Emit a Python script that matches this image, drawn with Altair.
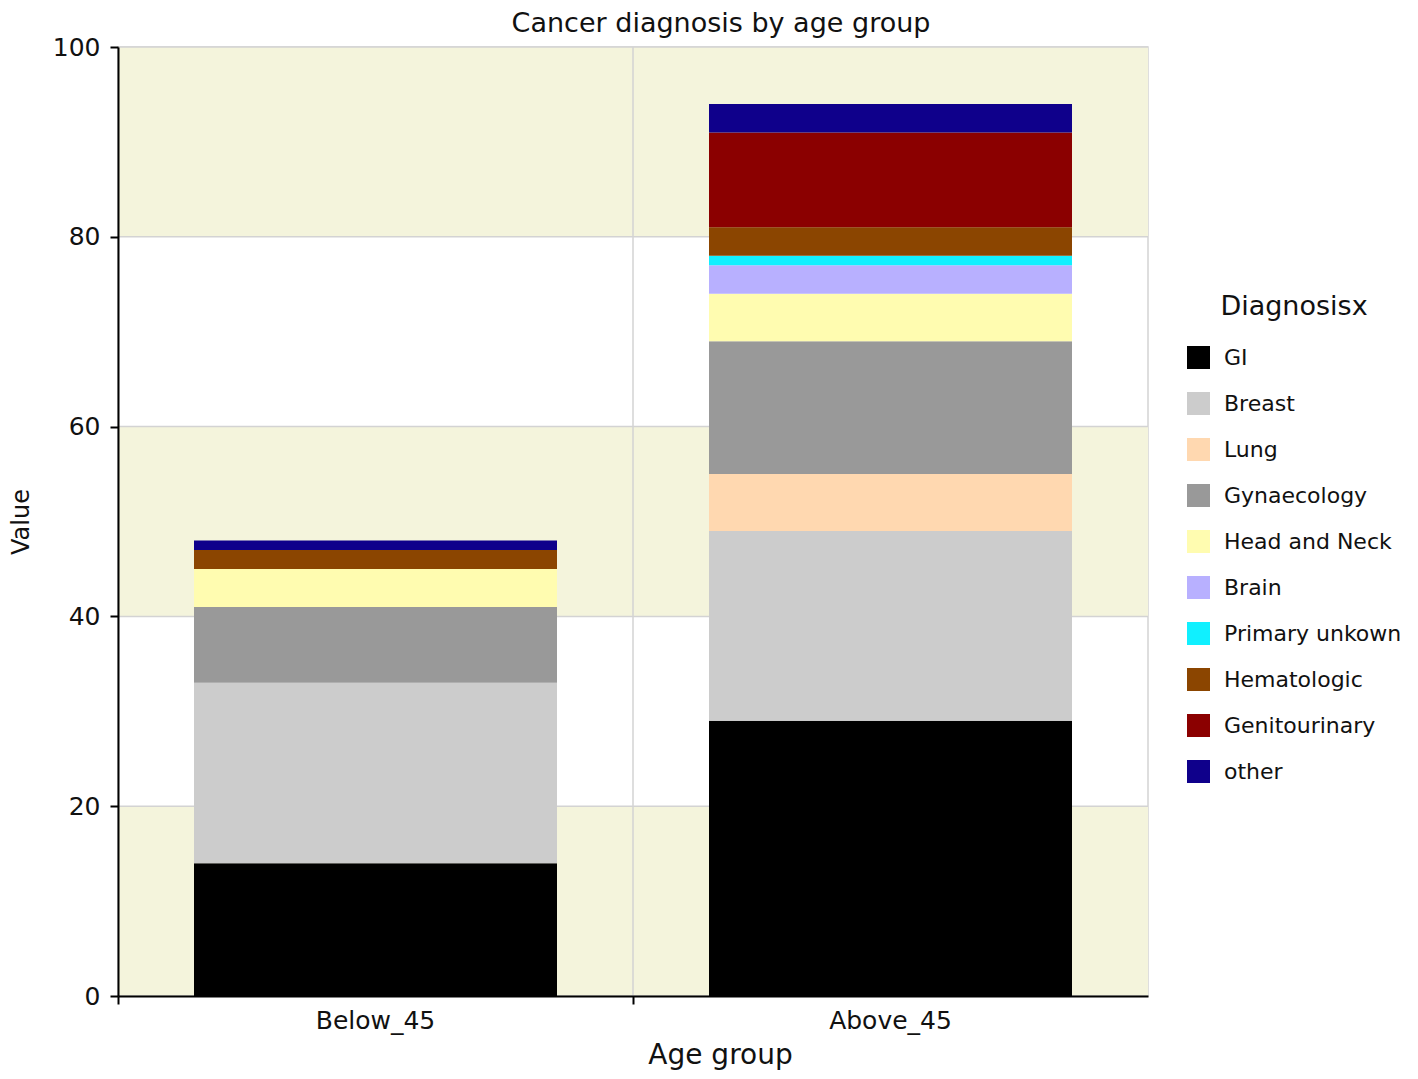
import altair as alt
import pandas as pd

categories = ["Below_45", "Above_45"]
diagnoses = ["GI", "Breast", "Lung", "Gynaecology", "Head and Neck", "Brain",
             "Primary unkown", "Hematologic", "Genitourinary", "other"]
below_45 = [14, 19, 0, 8, 4, 0, 0, 2, 0, 1]
above_45 = [29, 20, 6, 14, 5, 3, 1, 3, 10, 3]
colors = ["#000000", "#CCCCCC", "#FFD8B0", "#999999", "#FFFCB0", "#B8B0FF",
          "#10F0FF", "#8B4500", "#8B0000", "#0F008B"]
y_ticks = [0, 20, 40, 60, 80, 100]
band_lo = [0, 40, 80]
band_hi = [20, 60, 100]

FONT = "DejaVu Sans"

rows = []
for cat, vals in zip(categories, [below_45, above_45]):
    for i, (d, v) in enumerate(zip(diagnoses, vals)):
        rows.append({"Age group": cat, "Diagnosisx": d, "Value": v, "idx": i})
df = pd.DataFrame(rows)

x_scale = alt.Scale(domain=categories, paddingInner=0, paddingOuter=0)
y_scale = alt.Scale(domain=[0, 100], nice=False)

x_axis = alt.Axis(
    bandPosition=0, grid=False, ticks=True, tickSize=8,
    tickColor="black", tickWidth=2, domainColor="black", domainWidth=2,
    labelAngle=0, labelFont=FONT, labelFontSize=25, labelColor="#111",
    labelPadding=4, title="Age group", titleFont=FONT, titleFontSize=28,
    titleFontWeight="normal", titleColor="#111", titleX=602,
    titlePadding=8, zindex=1, labelAlign="center",
)
y_axis = alt.Axis(
    values=y_ticks, grid=False, tickSize=8, tickColor="black", tickWidth=2,
    domainColor="black", domainWidth=2, labelFont=FONT, labelFontSize=25,
    labelColor="#111", labelPadding=10, title="Value", titleFont=FONT,
    titleFontSize=24, titleFontWeight="normal", titleColor="#111",
    titlePadding=19, zindex=1,
)

bg = alt.Chart(pd.DataFrame({"lo": band_lo, "hi": band_hi})).mark_rect(
    color="#F4F4DC"
).encode(
    y=alt.Y("lo:Q", scale=y_scale, axis=y_axis),
    y2="hi:Q",
)

hgrid = alt.Chart(pd.DataFrame({"v": y_ticks})).mark_rule(
    color="#D3D3D3", strokeWidth=1.5
).encode(y=alt.Y("v:Q", scale=y_scale, axis=y_axis))

vgrid = alt.Chart(pd.DataFrame({"Age group": categories})).mark_rule(
    color="#D3D3D3", strokeWidth=1.5
).encode(x=alt.X("Age group:N", scale=x_scale, bandPosition=0, axis=x_axis))

bars = alt.Chart(df).mark_bar(size=363).encode(
    x=alt.X("Age group:N", scale=x_scale, axis=x_axis),
    y=alt.Y("Value:Q", scale=y_scale, stack="zero", axis=y_axis),
    color=alt.Color(
        "Diagnosisx:N",
        scale=alt.Scale(domain=diagnoses, range=colors),
        legend=alt.Legend(
            orient="none", legendX=1069, legendY=247, title="Diagnosisx",
            titleFont=FONT, titleFontSize=27, titleFontWeight="normal",
            titleColor="#111", titleAnchor="middle", titlePadding=25,
            labelFont=FONT, labelFontSize=22, labelColor="#111", labelLimit=400,
            symbolType="square", symbolSize=529, symbolStrokeWidth=0,
            rowPadding=23, labelOffset=14, padding=0,
        ),
    ),
    order=alt.Order("idx:Q", sort="ascending"),
)

chart = alt.layer(bg, hgrid, vgrid, bars).properties(
    width=1030,
    height=949,
    autosize=alt.AutoSizeParams(type="none"),
    padding={"left": 110, "top": 39, "right": 262, "bottom": 75},
    title=alt.TitleParams(
        "Cancer diagnosis by age group", font=FONT, fontSize=27,
        fontWeight="normal", color="#111", anchor="middle", dx=88, offset=-3,
    ),
).configure_view(stroke="#D3D3D3", strokeWidth=1.5)

chart.save("out.html", embed_options={"renderer": "svg", "actions": False})
